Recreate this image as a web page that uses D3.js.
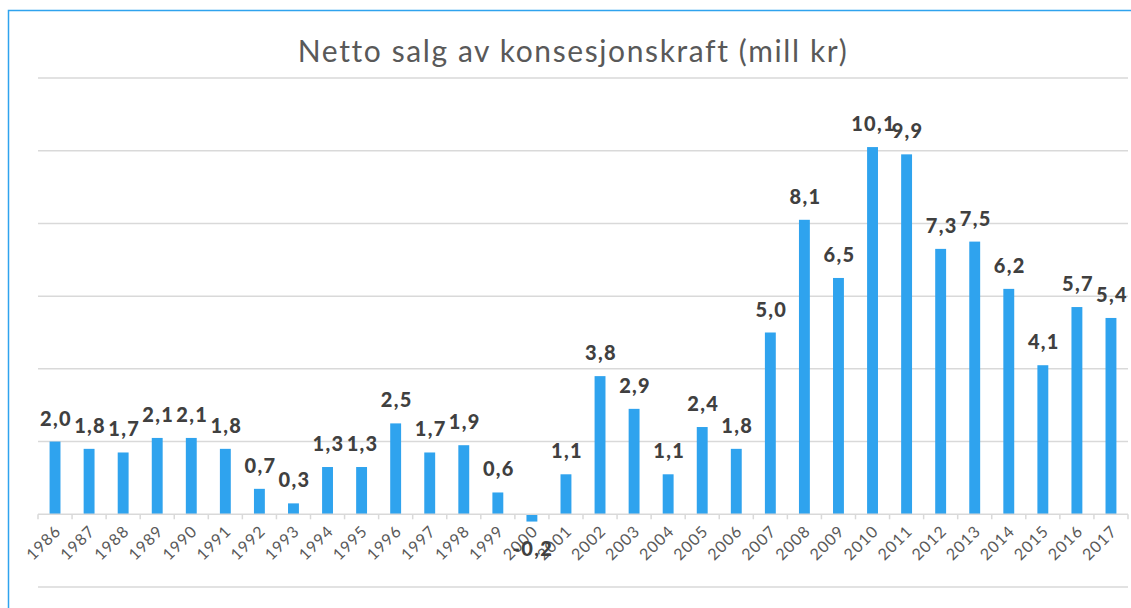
<!DOCTYPE html>
<html>
<head>
<meta charset="utf-8">
<script src="https://cdn.jsdelivr.net/npm/d3@7"></script>
<style>
  body { margin: 0; background: #fff; }
  svg { display: block; }
</style>
</head>
<body>
<svg width="1131" height="608"></svg>
<script>
const years = ["1986", "1987", "1988", "1989", "1990", "1991", "1992", "1993", "1994", "1995",
    "1996", "1997", "1998", "1999", "2000", "2001", "2002", "2003", "2004", "2005",
    "2006", "2007", "2008", "2009", "2010", "2011", "2012", "2013", "2014", "2015",
    "2016", "2017"];
const values = [2.0, 1.8, 1.7, 2.1, 2.1, 1.8, 0.7, 0.3, 1.3, 1.3,
    2.5, 1.7, 1.9, 0.6, -0.2, 1.1, 3.8, 2.9, 1.1, 2.4,
    1.8, 5.0, 8.1, 6.5, 10.1, 9.9, 7.3, 7.5, 6.2, 4.1,
    5.7, 5.4];
const gridTicks = [-2, 0, 2, 4, 6, 8, 10, 12];

const svg = d3.select("svg");
const barColor = "#2fa3ee";

// frame
svg.append("path")
    .attr("d", "M8.5,608 L8.5,10.5 L1131,10.5")
    .attr("fill", "none")
    .attr("stroke", barColor)
    .attr("stroke-width", 1.5);

svg.append("text")
    .attr("x", 573)
    .attr("y", 62)
    .attr("text-anchor", "middle")
    .style("font-family", "Lato, 'Open Sans', sans-serif")
    .style("font-size", "30px")
    .style("letter-spacing", "1.6px")
    .style("fill", "#595959")
    .text("Netto salg av konsesjonskraft (mill kr)");

const x = d3.scaleBand().domain(years).range([38, 1128]).paddingInner(0.68).paddingOuter(0.34);
const y = d3.scaleLinear().domain([-2, 12]).range([587, 78]);

const g = svg.append("g");

g.selectAll(".grid")
    .data(gridTicks.filter(d => d !== 0))
    .enter().append("line")
    .attr("class", "grid")
    .attr("x1", 38).attr("x2", 1128)
    .attr("y1", d => y(d)).attr("y2", d => y(d))
    .attr("stroke", "#d9d9d9")
    .attr("stroke-width", 1.5);

g.selectAll(".bar")
    .data(values)
    .enter().append("rect")
    .attr("class", "bar")
    .attr("x", (d, i) => x(years[i]))
    .attr("width", x.bandwidth())
    .attr("y", d => y(Math.max(0, d)))
    .attr("height", d => Math.abs(y(d) - y(0)))
    .attr("fill", barColor);

// category axis
const step = x.step();
const xAxis = g.append("g");
xAxis.append("line")
    .attr("x1", 38).attr("x2", 1128)
    .attr("y1", y(0)).attr("y2", y(0))
    .attr("stroke", "#d9d9d9")
    .attr("stroke-width", 1.5);
xAxis.selectAll(".tick")
    .data(d3.range(years.length + 1))
    .enter().append("line")
    .attr("x1", i => 38 + i * step).attr("x2", i => 38 + i * step)
    .attr("y1", y(0)).attr("y2", y(0) + 5)
    .attr("stroke", "#d9d9d9")
    .attr("stroke-width", 1.5);
xAxis.selectAll(".xlabel")
    .data(years)
    .enter().append("text")
    .attr("class", "xlabel")
    .attr("transform", d => "translate(" + (x(d) + x.bandwidth() / 2 + 7) + "," + (y(0) + 18) + ") rotate(-45)")
    .attr("text-anchor", "end")
    .style("font-family", "Lato, 'Open Sans', sans-serif")
    .style("font-size", "16px")
    .style("letter-spacing", "1px")
    .style("fill", "#595959")
    .text(d => d);

// value labels
g.selectAll(".val")
    .data(values)
    .enter().append("text")
    .attr("class", "val")
    .attr("x", (d, i) => x(years[i]) + x.bandwidth() / 2 + 1)
    .attr("y", d => d >= 0 ? y(d) - 16 : y(d) + 34)
    .attr("text-anchor", "middle")
    .style("font-family", "Lato, 'Open Sans', sans-serif")
    .style("font-weight", "900")
    .style("font-size", "20px")
    .style("letter-spacing", "1.3px")
    .style("fill", "#404040")
    .text(d => d3.format(".1f")(d).replace(".", ",").replace("−", "-"));
</script>
</body>
</html>
